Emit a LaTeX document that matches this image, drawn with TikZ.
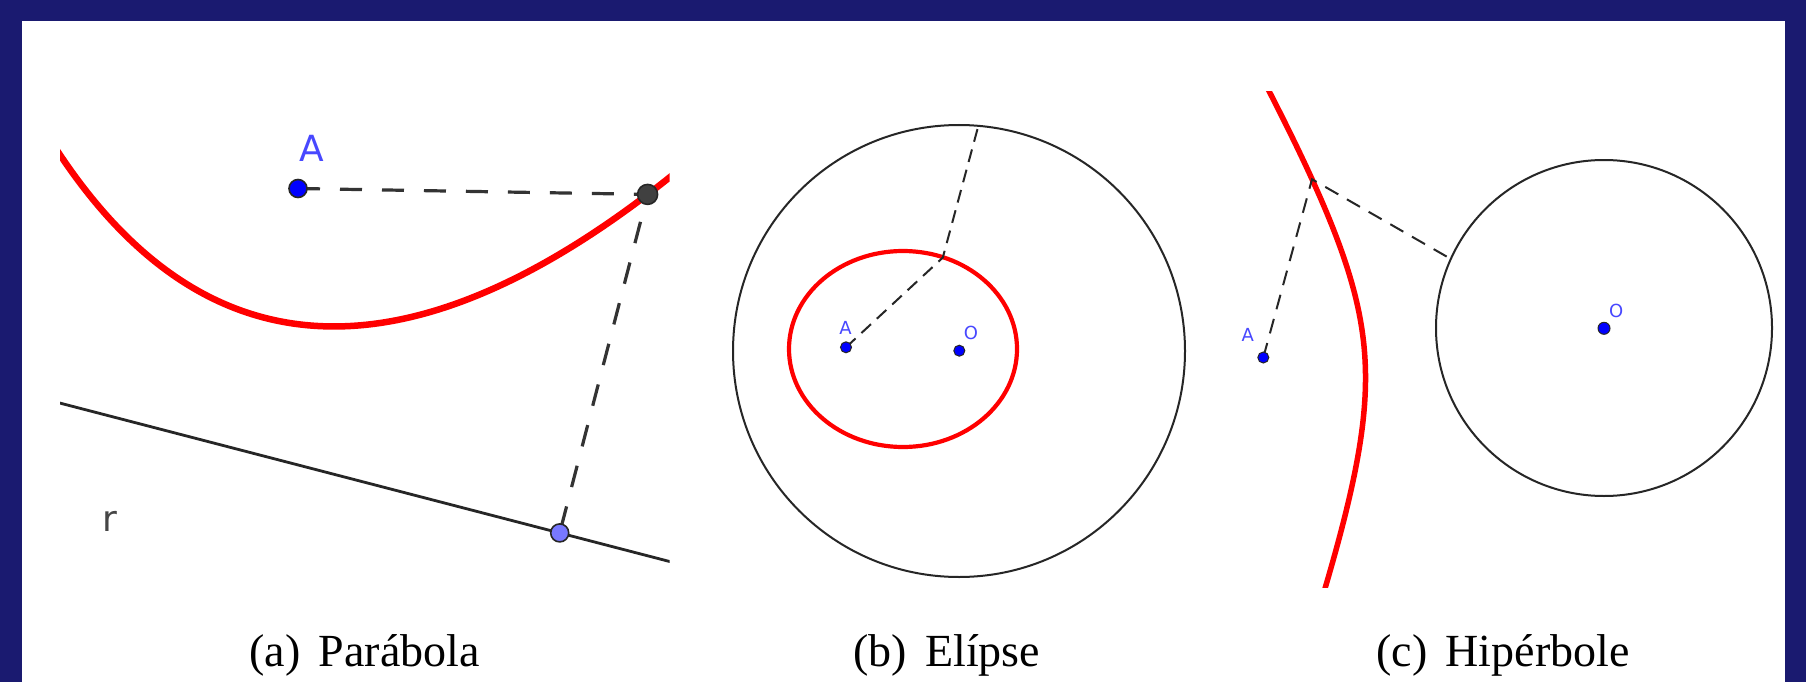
\documentclass[tikz,border=0pt]{standalone}
\usepackage{fontspec}
\setmainfont{Liberation Serif}
\newfontfamily\ggb{DejaVu Sans}
\definecolor{navyband}{RGB}{26,26,112}
\definecolor{ggblabel}{RGB}{72,72,255}
\definecolor{ptdark}{RGB}{64,64,64}
\definecolor{ptlight}{RGB}{120,120,255}
\definecolor{lblgray}{RGB}{70,70,70}
\begin{document}
\begin{tikzpicture}[x=1pt,y=-1pt,
  bigpt/.style={circle,inner sep=0pt,minimum size=19pt,draw=black!85,line width=1.6pt},
  smallpt/.style={circle,inner sep=0pt,minimum size=11pt,fill=blue,draw=black!85,line width=1pt},
  biglbl/.style={inner sep=0pt,font=\ggb\fontsize{36}{40}\selectfont},
  smalllbl/.style={inner sep=0pt,text=ggblabel,font=\ggb\fontsize{18}{20}\selectfont},
  capt/.style={inner sep=0pt,anchor=base,font=\fontsize{46}{50}\selectfont},
  dasha/.style={draw=black!80,line width=3.2pt,dash pattern=on 22pt off 20pt},
  dashb/.style={draw=black!85,line width=2pt,dash pattern=on 13pt off 8pt},
  dashc/.style={draw=black!85,line width=2pt,dash pattern=on 15pt off 10pt},
  conic/.style={draw=red,line width=#1},
  thinline/.style={draw=black!85,line width=2pt}]
\useasboundingbox (0,0) rectangle (1806,682);
\fill[navyband] (0,0) rectangle (1806,682);
\fill[white] (22,21) rectangle (1785,682);

% ---------- (a) Parabola ----------
\coordinate (r1) at (40,397.9);
\coordinate (r2) at (690,566.8);
\begin{scope}
  \clip (60,100) rectangle (669.5,620);
  \draw[thinline,line width=2.8pt] (r1) -- (r2);
  \draw[conic=6.5pt] plot[domain=-2.75:3.8,samples=90,smooth,variable=\s]
    ({264.3+96.79*\s+4.692*\s*\s},{317.7+25.15*\s-18.058*\s*\s});
\end{scope}
\coordinate (Aac) at (298,188.5);
\coordinate (Pac) at (647.6,194.4);
\coordinate (Fac) at (559.7,532.9);
\draw[dasha] (Aac) -- (Pac) -- (Fac);
\node[bigpt,fill=blue,minimum size=18pt] (Aa) at (Aac) {};
\node[bigpt,fill=ptdark,minimum size=20pt] (Pa) at (Pac) {};
\node[bigpt,fill=ptlight,minimum size=18pt] (Fa) at (Fac) {};
\node[biglbl,text=ggblabel] (LAa) at (312,148.3) {A};
\node[biglbl,text=lblgray] (Lr) at (110,521.7) {r};
\node[capt] (capa) at (364.5,666) {(a)\hspace{0.4em}Parábola};

% ---------- (b) Ellipse ----------
\draw[thinline] (959,351) circle[radius=226];
\draw[conic=4.2pt] (903,349) ellipse[x radius=114,y radius=98];
\coordinate (Abc) at (846,347.3);
\coordinate (Pb) at (942.8,257.6);
\coordinate (Qb) at (978.3,126);
\draw[dashb] (Abc) -- (Pb) -- (Qb);
\node[smallpt] (Ab) at (Abc) {};
\node[smallpt] (Ob) at (959.3,350.7) {};
\node[smalllbl] (LAb) at (845.5,328.3) {A};
\node[smalllbl] (LOb) at (971,333.3) {O};
\node[capt] (capb) at (946.8,666) {(b)\hspace{0.4em}Elípse};

% ---------- (c) Hyperbola ----------
\draw[thinline] (1604,328) circle[radius=168];
\begin{scope}
  \clip (1200,92) rectangle (1420,587);
  \draw[conic=5.5pt] plot[domain=-1.42:1.32,samples=90,smooth,variable=\t]
    ({1434-69.73*cosh(\t)+13.14*sinh(\t)},{343+6.132*cosh(\t)+149.43*sinh(\t)});
\end{scope}
\coordinate (Acc) at (1263.3,357.5);
\coordinate (Pc) at (1312,179.3);
\coordinate (Qc) at (1450,258.5);
\draw[dashc] (Acc) -- (Pc) -- (Qc);
\node[smallpt] (Ac) at (Acc) {};
\node[smallpt,minimum size=12pt] (Oc) at (1604,328.3) {};
\node[smalllbl] (LAc) at (1247.8,335) {A};
\node[smalllbl] (LOc) at (1616.3,311) {O};
\node[capt] (capc) at (1503,666) {(c)\hspace{0.4em}Hipérbole};
\end{tikzpicture}
\end{document}
